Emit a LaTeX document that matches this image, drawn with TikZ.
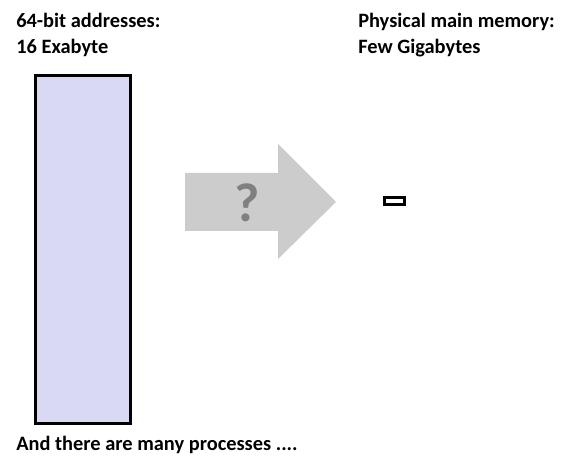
\documentclass[tikz,border=0pt]{standalone}
\usepackage{fontspec}
\setmainfont{Carlito}
\usetikzlibrary{shapes}

\definecolor{vmfill}{RGB}{217,217,243}
\definecolor{arrowgray}{RGB}{204,204,204}
\definecolor{markgray}{RGB}{128,128,128}

\begin{document}
\begin{tikzpicture}[
    x=0.75pt, y=-0.75pt,
	caption/.style={
	  anchor=base west,
	  inner sep=0pt,
	  align=left,
	  font=\fontsize{15.3}{19.5}\selectfont\bfseries
	},
	memblock/.style={
	  rectangle,
	  inner sep=0pt,
	  line width=2.25pt,
	  draw=black
	},
	mapping/.style={fill=arrowgray, draw=none},
	qmark/.style={font=\fontsize{41}{41}\selectfont\bfseries, text=markgray}
	]
	\useasboundingbox (0, 0) rectangle (588, 459);
	\node at (16, 54) [caption] (vtitle) {64-bit addresses:\\16 Exabyte};
	\node at (358, 54) [caption] (ptitle) {Physical main memory:\\Few Gigabytes};
	\node at (82.5, 249.5) [memblock, fill=vmfill, minimum width=71.25pt, minimum height=261pt] (virt) {};
	\node at (394, 201) [memblock, fill=white, minimum width=15pt, minimum height=5.25pt] (phys) {};
	\path [mapping] (185, 173) -- (278, 173) -- (278, 144) -- (336, 202)
	  -- (278, 259) -- (278, 231) -- (185, 231) -- cycle;
	\node at (247, 203) [qmark] (question) {?};
	\node at (16, 450) [caption] (note) {And there are many processes ....};
  \end{tikzpicture}
\end{document}
